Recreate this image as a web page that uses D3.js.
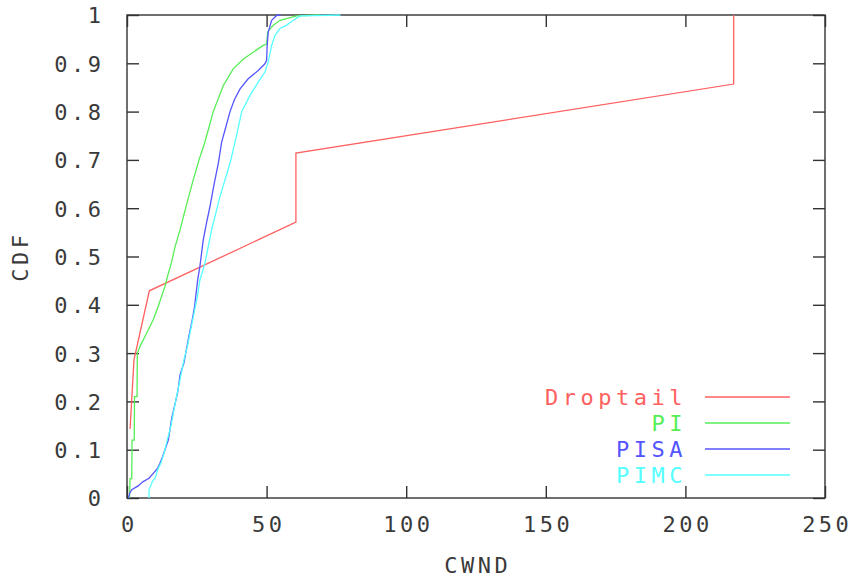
<!DOCTYPE html>
<html>
<head>
<meta charset="utf-8">
<script src="https://cdn.jsdelivr.net/npm/d3@7"></script>
<style>
  html, body { margin: 0; padding: 0; background: #fff; }
  svg { display: block; }
  text {
    font-family: "DejaVu Sans Mono", "Liberation Mono", monospace;
    font-size: 22px; fill: #3a3a3a; letter-spacing: 3.5px;
  }
  .legend-label { letter-spacing: 4.5px; }
</style>
</head>
<body>
<svg id="chart" width="855" height="578"></svg>
<script>
// CWND distribution per queue discipline (empirical CDF)
const droptailCwnd = [1.1, 2.5, 8.0, 60.5, 60.5, 217.3, 217.3];
const droptailCdf  = [0.143, 0.286, 0.429, 0.571, 0.714, 0.857, 1.0];

const piCwnd = [0.9, 1.1, 1.7, 1.8, 2.6, 2.7, 3.6, 3.7, 4.9, 6.4, 8.2, 9.4, 11.2, 12.4, 13.6, 14.8, 16.0, 17.2, 19.0, 21.3, 23.7, 25.8, 27.9, 30.9, 34.5, 38.1, 41.7, 45.2, 48.8, 50.0, 50.4, 52.4, 54.8, 60.8, 69.0];
const piCdf  = [0, 0.04, 0.04, 0.12, 0.12, 0.21, 0.21, 0.30, 0.317, 0.334, 0.355, 0.369, 0.397, 0.418, 0.438, 0.465, 0.489, 0.52, 0.555, 0.607, 0.658, 0.70, 0.737, 0.80, 0.854, 0.889, 0.909, 0.923, 0.937, 0.94, 0.965, 0.979, 0.989, 0.998, 1.0];

const pisaCwnd = [0.5, 1.0, 1.7, 4.0, 5.8, 7.9, 9.4, 10.9, 11.8, 12.7, 13.6, 14.8, 16.0, 17.2, 18.2, 19.0, 20.4, 22.0, 23.4, 24.2, 25.3, 26.1, 27.3, 28.5, 29.7, 31.2, 32.7, 33.9, 35.1, 36.9, 38.5, 40.5, 43.4, 47.0, 49.4, 50.0, 50.2, 50.6, 51.8, 53.6, 55.0];
const pisaCdf  = [0, 0.01, 0.017, 0.025, 0.034, 0.041, 0.051, 0.061, 0.072, 0.085, 0.10, 0.12, 0.165, 0.195, 0.22, 0.255, 0.28, 0.33, 0.37, 0.396, 0.451, 0.479, 0.534, 0.57, 0.603, 0.65, 0.693, 0.737, 0.762, 0.80, 0.825, 0.847, 0.868, 0.885, 0.899, 0.906, 0.937, 0.965, 0.989, 0.999, 1.0];

const pimcCwnd = [7.9, 7.9, 9.1, 10.3, 10.9, 12.1, 13.3, 14.4, 15.7, 16.8, 18.0, 19.2, 20.4, 21.6, 22.8, 24.0, 25.2, 26.1, 27.9, 30.3, 33.3, 36.9, 38.8, 41.1, 44.1, 47.0, 49.4, 50.6, 51.8, 53.0, 54.8, 57.2, 59.6, 62.0, 76.5];
const pimcCdf  = [0, 0.017, 0.034, 0.044, 0.058, 0.072, 0.093, 0.12, 0.148, 0.182, 0.217, 0.251, 0.286, 0.313, 0.348, 0.382, 0.417, 0.451, 0.486, 0.555, 0.624, 0.693, 0.74, 0.80, 0.834, 0.861, 0.882, 0.903, 0.937, 0.958, 0.972, 0.979, 0.989, 0.998, 1.0];

const seriesNames  = ["Droptail", "PI", "PISA", "PIMC"];
const seriesColors = ["#ff6060", "#55ee55", "#5555ff", "#55ffff"];
const xTicks = [0, 50, 100, 150, 200, 250];
const yTicks = [0, 0.1, 0.2, 0.3, 0.4, 0.5, 0.6, 0.7, 0.8, 0.9, 1];

const series = [
  [droptailCwnd, droptailCdf],
  [piCwnd, piCdf],
  [pisaCwnd, pisaCdf],
  [pimcCwnd, pimcCdf]
].map(([xs, ys], i) => ({
  name: seriesNames[i],
  color: seriesColors[i],
  points: xs.map((x, j) => [x, ys[j]])
}));

const svg = d3.select("#chart");
const plotLeft = 127, plotRight = 825, plotTop = 15, plotBottom = 498;
const tick = 12;

const x = d3.scaleLinear().domain([0, 250]).range([plotLeft, plotRight]);
const y = d3.scaleLinear().domain([0, 1]).range([plotBottom, plotTop]);

const fmtY = d => (d === 0 || d === 1) ? String(d) : d.toFixed(1);

// axes with inward ticks on all four sides
const axisStyle = g => {
  g.select(".domain").remove();
  g.selectAll(".tick line").attr("stroke", "#333").attr("stroke-width", 1.4);
};

svg.append("g")
  .attr("transform", `translate(0,${plotBottom})`)
  .call(d3.axisBottom(x).tickValues(xTicks).tickSizeInner(-tick).tickSizeOuter(0).tickFormat(d3.format("d")))
  .call(axisStyle)
  .call(g => g.attr("font-family", null).attr("font-size", null))
  .call(g => g.selectAll(".tick text")
    .attr("y", 34).attr("dy", 0).attr("dx", 1.75)
    .attr("fill", null));

svg.append("g")
  .attr("transform", `translate(0,${plotTop})`)
  .call(d3.axisTop(x).tickValues(xTicks).tickSizeInner(-tick).tickSizeOuter(0).tickFormat(""))
  .call(axisStyle);

svg.append("g")
  .attr("transform", `translate(${plotLeft},0)`)
  .call(d3.axisLeft(y).tickValues(yTicks).tickSizeInner(-tick).tickSizeOuter(0).tickFormat(fmtY))
  .call(axisStyle)
  .call(g => g.attr("font-family", null).attr("font-size", null))
  .call(g => g.selectAll(".tick text")
    .attr("x", -22.5).attr("dy", "0.36em")
    .attr("fill", null));

svg.append("g")
  .attr("transform", `translate(${plotRight},0)`)
  .call(d3.axisRight(y).tickValues(yTicks).tickSizeInner(-tick).tickSizeOuter(0).tickFormat(""))
  .call(axisStyle);

// plot border
svg.append("rect")
  .attr("x", plotLeft).attr("y", plotTop)
  .attr("width", plotRight - plotLeft).attr("height", plotBottom - plotTop)
  .attr("fill", "none").attr("stroke", "#333").attr("stroke-width", 1.4);

// CDF curves
const line = d3.line().x(d => x(d[0])).y(d => y(d[1]));
svg.append("g").selectAll("path")
  .data(series)
  .join("path")
  .attr("d", d => line(d.points))
  .attr("fill", "none")
  .attr("stroke", d => d.color)
  .attr("stroke-width", 1.3);

// axis titles
svg.append("text")
  .attr("x", (plotLeft + plotRight) / 2 + 1.75).attr("y", 573)
  .attr("text-anchor", "middle")
  .text("CWND");

svg.append("text")
  .attr("transform", `translate(28,${(plotTop + plotBottom) / 2}) rotate(-90)`)
  .attr("text-anchor", "middle")
  .text("CDF");

// legend
const legend = svg.append("g").selectAll("g")
  .data(series)
  .join("g")
  .attr("transform", (d, i) => `translate(0,${397 + i * 26})`);

legend.append("text")
  .attr("class", "legend-label")
  .attr("x", 687).attr("dy", "0.36em")
  .attr("text-anchor", "end")
  .style("fill", d => d.color)
  .text(d => d.name);

legend.append("line")
  .attr("x1", 705).attr("x2", 790)
  .attr("stroke", d => d.color)
  .attr("stroke-width", 1.3);
</script>
</body>
</html>
